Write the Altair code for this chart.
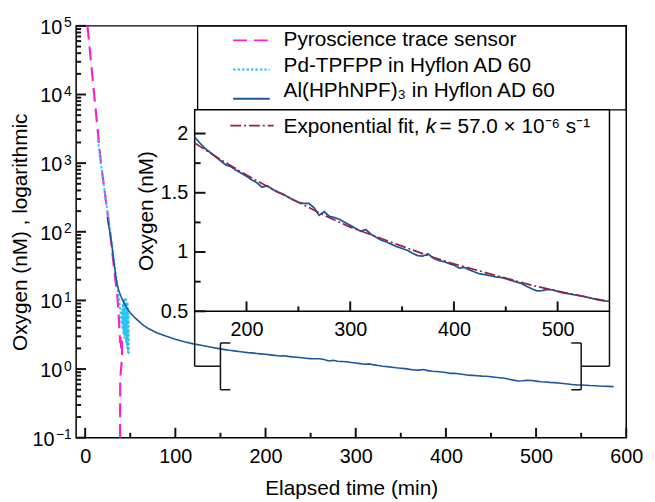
import json
import altair as alt
import pandas as pd

# ---------------- values ----------------
SERIES = ["Pyroscience trace sensor", "Pd-TPFPP in Hyflon AD 60", "Al(HPhNPF)₃ in Hyflon AD 60"]
FIT_PARTS = ["Exponential fit, ", "k", "= 57.0 × 10⁻⁶ s⁻¹"]

X_TITLE = "Elapsed time (min)"
Y_TITLE = "Oxygen (nM) , logarithmic"
INSET_Y_TITLE = "Oxygen (nM)"

PYRO_T = [2.6, 10, 17.5, 22.5, 27.5, 30.5, 33.5, 35.4, 36.6, 37.5, 38.2, 38.8, 39.4, 40.0,
          40.6, 41.0, 40.3, 39.5, 38.9, 38.8, 38.8]
PYRO_O2 = [1e5, 1e4, 1e3, 316, 100, 45, 20, 13, 8, 5.2, 3.4, 2.4, 3.0, 2.0,
           2.9, 1.7, 1.2, 0.9, 0.75, 0.3, 0.05]

PD_T = [14, 16, 18, 20, 22, 24, 26, 28, 30, 32, 34, 36, 37.5, 38.5, 39.5, 40.5, 41, 41.5,
        42, 42.5, 43, 43.5, 44, 44.5, 45, 45.5, 46, 46.5, 47, 47.5, 48, 48.5]
PD_O2 = [2200, 1400, 850, 560, 360, 230, 150, 95, 60, 38, 24, 15, 11, 8, 6.5, 4.5, 7.5, 3.8,
         9, 3.2, 10.5, 2.8, 6, 3.5, 11, 2.4, 8, 2.0, 9.5, 1.7, 6.5, 1.6]

AL_T = [24.5, 26, 28, 30, 32, 34, 36, 38, 40, 42, 44, 46, 48, 50, 55, 60, 65, 70, 80, 90,
        100, 110, 120, 130, 140, 145,
        150, 155, 160, 165, 170, 175, 180, 185, 190, 195, 200, 205, 210, 215, 220, 225, 230,
        235, 240, 245, 250, 255, 260, 265, 270, 275, 280, 285, 290, 295, 300, 305, 310, 315,
        320, 325, 330, 335, 340, 345, 350, 355, 360, 365, 370, 375, 380, 385, 390, 395, 400,
        405, 410, 415, 420, 425, 430, 435, 440, 445, 450, 455, 460, 465, 470, 475, 480, 485,
        490, 495, 500, 505, 510, 515, 520, 525, 530, 535, 540, 545, 550,
        555, 560, 565, 570, 575, 580, 586]
AL_O2 = [163, 125, 90, 58, 35, 22, 16, 13, 11.2, 9.8, 8.8, 7.9, 7.2, 6.6, 5.6, 4.9, 4.3, 3.9,
         3.35, 3.0, 2.72, 2.5, 2.33, 2.2, 2.08, 2.02,
         1.97, 1.92, 1.875, 1.84, 1.806, 1.77, 1.735, 1.72, 1.69, 1.665, 1.64, 1.61, 1.585,
         1.547, 1.56, 1.53, 1.506, 1.49, 1.465, 1.44, 1.42, 1.41, 1.41, 1.375, 1.31, 1.34,
         1.30, 1.29, 1.275, 1.25, 1.225, 1.2, 1.175, 1.19, 1.15, 1.125, 1.10, 1.085, 1.065,
         1.045, 1.03, 1.015, 0.99, 0.97, 0.965, 0.985, 0.95, 0.93, 0.92, 0.905, 0.89, 0.865,
         0.87, 0.85, 0.832, 0.815, 0.81, 0.80, 0.79, 0.787, 0.775, 0.76, 0.748, 0.735, 0.712,
         0.69, 0.672, 0.675, 0.685, 0.68, 0.668, 0.655, 0.65, 0.64, 0.635, 0.625, 0.615, 0.605,
         0.595, 0.588, 0.585,
         0.58, 0.575, 0.572, 0.566, 0.562, 0.56, 0.555]

FIT_T = [150, 175, 200, 225, 250, 275, 300, 325, 350, 375, 400, 425, 450, 475, 500, 525, 550]
FIT_O2 = [1.92, 1.78, 1.65, 1.53, 1.42, 1.31, 1.21, 1.13, 1.05, 0.97, 0.90, 0.84, 0.78,
          0.72, 0.67, 0.625, 0.583]

X_DOMAIN = [-10, 600]
Y_DOMAIN = [0.1, 1e5]
X_TICKS = [0, 100, 200, 300, 400, 500, 600]
X_MINOR = [50, 150, 250, 350, 450, 550]
Y_TICKS = [0.1, 1, 10, 100, 1000, 10000, 100000]
Y_TICK_BASE = "10"
Y_TICK_EXP = ["−1", "0", "1", "2", "3", "4", "5"]
Y_MINOR = [m * 10.0 ** k for k in range(-1, 5) for m in range(2, 10)]

INSET_X = [150, 550]
INSET_Y = [0.5, 2.2]
INSET_X_TICKS = [200, 300, 400, 500]
INSET_X_MINOR = [250, 350, 450]
INSET_Y_TICKS = [0.5, 1, 1.5, 2]
INSET_Y_MINOR = [0.75, 1.25, 1.75]

# ---------------- styling / layout ----------------
W, H = 557, 417
FONT = "Liberation Sans"
MAGENTA = "#fb1fd2"
CYAN = "#2bc3ef"
NAVY = "#1d579c"
FIT_COLOR = "#9c1f40"
INK = "#111111"
COLORS = [MAGENTA, CYAN, NAVY]
DASHES = [[14, 7], [2.5, 2], [1, 0]]
FIT_DASH = [11, 3, 2, 3]

IN_LEFT, IN_RIGHT, IN_TOP, IN_BOTTOM = 120, 540, 85, 289


def x_main():
    return alt.Scale(domain=X_DOMAIN, nice=False, zero=False)


def y_main():
    return alt.Scale(type="log", domain=Y_DOMAIN, nice=False)


def x_in():
    return alt.Scale(domain=INSET_X, range=[IN_LEFT, IN_RIGHT], nice=False, zero=False)


def y_in():
    return alt.Scale(domain=INSET_Y, range=[IN_BOTTOM, IN_TOP], nice=False, zero=False)


def label_axis(orient, values, pad, size=20, **kw):
    """Axis that only carries labels (and maybe a title); ticks are drawn inward separately."""
    base = dict(orient=orient, values=values, ticks=False, domain=False, grid=False,
                labelPadding=pad, labelFont=FONT, labelFontSize=size, labelColor="black",
                labelFlush=False, labelOverlap=False, titleFont=FONT, titleFontSize=21,
                titleFontWeight="normal", titleColor="black")
    base.update(kw)
    if "title" not in base:
        base["title"] = None
    return alt.Axis(**base)


exp_expr = json.dumps(Y_TICK_EXP, ensure_ascii=False) + "[round(log(datum.value)/LN10) + 1]"
short_vals = [v for v, e in zip(Y_TICKS, Y_TICK_EXP) if len(e) == 1]
long_vals = [v for v, e in zip(Y_TICKS, Y_TICK_EXP) if len(e) > 1]

AX_X_LAB = label_axis("bottom", X_TICKS, 9, title=X_TITLE, titleX=W / 2, titleY=58,
                      titleAlign="center", titleBaseline="alphabetic", titleAngle=0)
AX_Y_BASE = label_axis("left", short_vals, 14.5, labelExpr=f"'{Y_TICK_BASE}'", labelOffset=1.5,
                       title=Y_TITLE, titleX=-50, titleY=H / 2, titleAngle=270,
                       titleAlign="center", titleBaseline="alphabetic")
AX_Y_BASE2 = label_axis("left", long_vals, 22.5, labelExpr=f"'{Y_TICK_BASE}'", labelOffset=1.5)
AX_Y_EXP = label_axis("left", Y_TICKS, 5, size=14, labelExpr=exp_expr, labelOffset=-3)
AX_IX_LAB = label_axis("bottom", INSET_X_TICKS, 9, offset=-(H - IN_BOTTOM), zindex=1)
AX_IY_LAB = label_axis("left", INSET_Y_TICKS, 7, offset=-IN_LEFT, format="~g", zindex=1,
                       title=INSET_Y_TITLE, titleX=77 - IN_LEFT,
                       titleY=(IN_TOP + IN_BOTTOM) / 2, titleAngle=270, titleAlign="center",
                       titleBaseline="alphabetic")

# tick lengths (pixels) turned into data units of each panel
MAIN_X_PER_PX = (X_DOMAIN[1] - X_DOMAIN[0]) / W
MAIN_DEC_PER_PX = 6 / H
IN_X_PER_PX = (INSET_X[1] - INSET_X[0]) / (IN_RIGHT - IN_LEFT)
IN_Y_PER_PX = (INSET_Y[1] - INSET_Y[0]) / (IN_BOTTOM - IN_TOP)


def rule_layer(df, xs, ys, width=1.5):
    return alt.Chart(df).mark_rule(color=INK, strokeWidth=width).encode(
        x=alt.X("x:Q", scale=xs, axis=None), x2="x2:Q",
        y=alt.Y("y:Q", scale=ys, axis=None), y2="y2:Q")


# zoom brackets on the main curve (main data units)
lo, hi = INSET_X
link_l, link_r = 121.4, 581.4
br_rows = [
    dict(x=lo, x2=lo, y=0.5, y2=2.4), dict(x=lo, x2=lo + 11, y=2.4, y2=2.4),
    dict(x=lo, x2=lo + 11, y=0.5, y2=0.5), dict(x=link_l, x2=lo, y=1.1, y2=1.1),
    dict(x=link_l, x2=link_l, y=1.1, y2=7.0),
    dict(x=hi, x2=hi, y=0.5, y2=2.4), dict(x=hi - 11, x2=hi, y=2.4, y2=2.4),
    dict(x=hi - 11, x2=hi, y=0.5, y2=0.5), dict(x=hi, x2=link_r, y=1.1, y2=1.1),
    dict(x=link_r, x2=link_r, y=1.1, y2=7.0),
]
brackets = rule_layer(pd.DataFrame(br_rows), x_main(), y_main())

# inward ticks of the main frame
tick_rows = []
for vals, n in ((X_TICKS, 10), (X_MINOR, 5)):
    for v in vals:
        tick_rows.append(dict(x=v, x2=v, y=Y_DOMAIN[0], y2=Y_DOMAIN[0] * 10 ** (n * MAIN_DEC_PER_PX)))
for vals, n in ((Y_TICKS, 10), (Y_MINOR, 5)):
    for v in vals:
        tick_rows.append(dict(x=X_DOMAIN[0], x2=X_DOMAIN[0] + n * MAIN_X_PER_PX, y=v, y2=v))
main_ticks = rule_layer(pd.DataFrame(tick_rows), x_main(), y_main(), width=2)

# inward ticks of the inset frame
in_rows = []
for vals, n in ((INSET_X_TICKS, 10), (INSET_X_MINOR, 5)):
    for v in vals:
        in_rows.append(dict(x=v, x2=v, y=INSET_Y[0], y2=INSET_Y[0] + n * IN_Y_PER_PX))
for vals, n in ((INSET_Y_TICKS, 11), (INSET_Y_MINOR, 6)):
    for v in vals:
        in_rows.append(dict(x=INSET_X[0], x2=INSET_X[0] + n * IN_X_PER_PX, y=v, y2=v))
inset_ticks = rule_layer(pd.DataFrame(in_rows), x_in(), y_in(), width=2)

pyro_df = pd.DataFrame({"t": PYRO_T, "o2": PYRO_O2})
pyro_df["i"] = range(len(pyro_df))
pd_df = pd.DataFrame({"t": PD_T, "o2": PD_O2})
pd_df["i"] = range(len(pd_df))
al_df = pd.DataFrame({"t": AL_T, "o2": AL_O2})
fit_df = pd.DataFrame({"t": FIT_T, "o2": FIT_O2})

pyro = alt.Chart(pyro_df).mark_line(color=MAGENTA, strokeDash=DASHES[0], strokeWidth=2.2, clip=True).encode(
    x=alt.X("t:Q", scale=x_main(), axis=AX_X_LAB),
    y=alt.Y("o2:Q", scale=y_main(), axis=AX_Y_BASE),
    order=alt.Order("i:Q"))

pdl = alt.Chart(pd_df).mark_line(color=CYAN, strokeDash=DASHES[1], strokeWidth=2.0, clip=True).encode(
    x=alt.X("t:Q", scale=x_main(), axis=None),
    y=alt.Y("o2:Q", scale=y_main(), axis=AX_Y_EXP),
    order=alt.Order("i:Q"))

al = alt.Chart(al_df).mark_line(color=NAVY, strokeWidth=1.6, clip=True).encode(
    x=alt.X("t:Q", scale=x_main(), axis=None),
    y=alt.Y("o2:Q", scale=y_main(), axis=AX_Y_BASE2))

# legend box (main)
legend_box = alt.Chart(alt.Data(values=[{}])).mark_rect(
    fill="white", fillOpacity=0, stroke="black", strokeWidth=1.3).encode(
    x=alt.value(123), x2=alt.value(W), y=alt.value(0), y2=alt.value(IN_TOP))

leg_df = pd.DataFrame({"label": SERIES})
leg_sym = alt.Chart(leg_df).mark_rule(strokeWidth=2).encode(
    x=alt.value(159), x2=alt.value(196),
    y=alt.Y("label:N", scale=alt.Scale(type="point", domain=SERIES, range=[14.7, 73.7], padding=0),
            axis=None),
    color=alt.Color("label:N", scale=alt.Scale(domain=SERIES, range=COLORS), legend=None),
    strokeDash=alt.StrokeDash("label:N", scale=alt.Scale(domain=SERIES, range=DASHES), legend=None))
leg_txt = alt.Chart(leg_df).mark_text(align="left", baseline="middle", font=FONT, fontSize=21,
                                      color="black").encode(
    x=alt.value(210),
    y=alt.Y("label:N", scale=alt.Scale(type="point", domain=SERIES, range=[14.7, 66], padding=0),
            axis=None),
    text="label:N")

# inset
box_df = pd.DataFrame({"x": [INSET_X[0]], "x2": [INSET_X[1]], "y": [INSET_Y[0]], "y2": [INSET_Y[1]]})
inset_box = alt.Chart(box_df).mark_rect(fill="white", stroke="black", strokeWidth=1.5).encode(
    x=alt.X("x:Q", scale=x_in(), axis=AX_IX_LAB), x2="x2:Q",
    y=alt.Y("y:Q", scale=y_in(), axis=AX_IY_LAB), y2="y2:Q")

inset_al = alt.Chart(al_df).transform_filter(
    (alt.datum.t >= INSET_X[0]) & (alt.datum.t <= INSET_X[1])).mark_line(
    color=NAVY, strokeWidth=1.8).encode(
    x=alt.X("t:Q", scale=x_in(), axis=None),
    y=alt.Y("o2:Q", scale=y_in(), axis=None))

inset_fit = alt.Chart(fit_df).mark_line(color=FIT_COLOR, strokeDash=FIT_DASH, strokeWidth=1.7).encode(
    x=alt.X("t:Q", scale=x_in(), axis=None),
    y=alt.Y("o2:Q", scale=y_in(), axis=None))

fit_sym = alt.Chart(alt.Data(values=[{}])).mark_rule(
    color=FIT_COLOR, strokeDash=FIT_DASH, strokeWidth=1.8).encode(
    x=alt.value(156), x2=alt.value(200), y=alt.value(101))


def text_at(s, x, y, **kw):
    return alt.Chart(alt.Data(values=[{"s": s}])).mark_text(
        align="left", baseline="middle", font=FONT, fontSize=21, color="black", **kw).encode(
        x=alt.value(x), y=alt.value(y), text="s:N")


fit_t1 = text_at(FIT_PARTS[0], 210, 102.8)
fit_t2 = text_at(FIT_PARTS[1], 354, 102.8, fontStyle="italic")
fit_t3 = text_at(FIT_PARTS[2], 368, 102.8)

chart = alt.layer(
    pyro, pdl, al, legend_box, leg_sym, leg_txt, brackets, main_ticks,
    inset_box, inset_al, inset_fit, inset_ticks, fit_sym, fit_t1, fit_t2, fit_t3,
).resolve_scale(
    x="independent", y="independent", color="independent", strokeDash="independent"
).properties(
    width=W, height=H,
    padding={"left": 69, "top": 15, "right": 21, "bottom": 62},
    autosize=alt.AutoSizeParams(type="none"),
    background="white",
).configure_view(stroke="black", strokeWidth=1.5)

chart.save("out.html", embed_options={"renderer": "svg", "actions": False})
